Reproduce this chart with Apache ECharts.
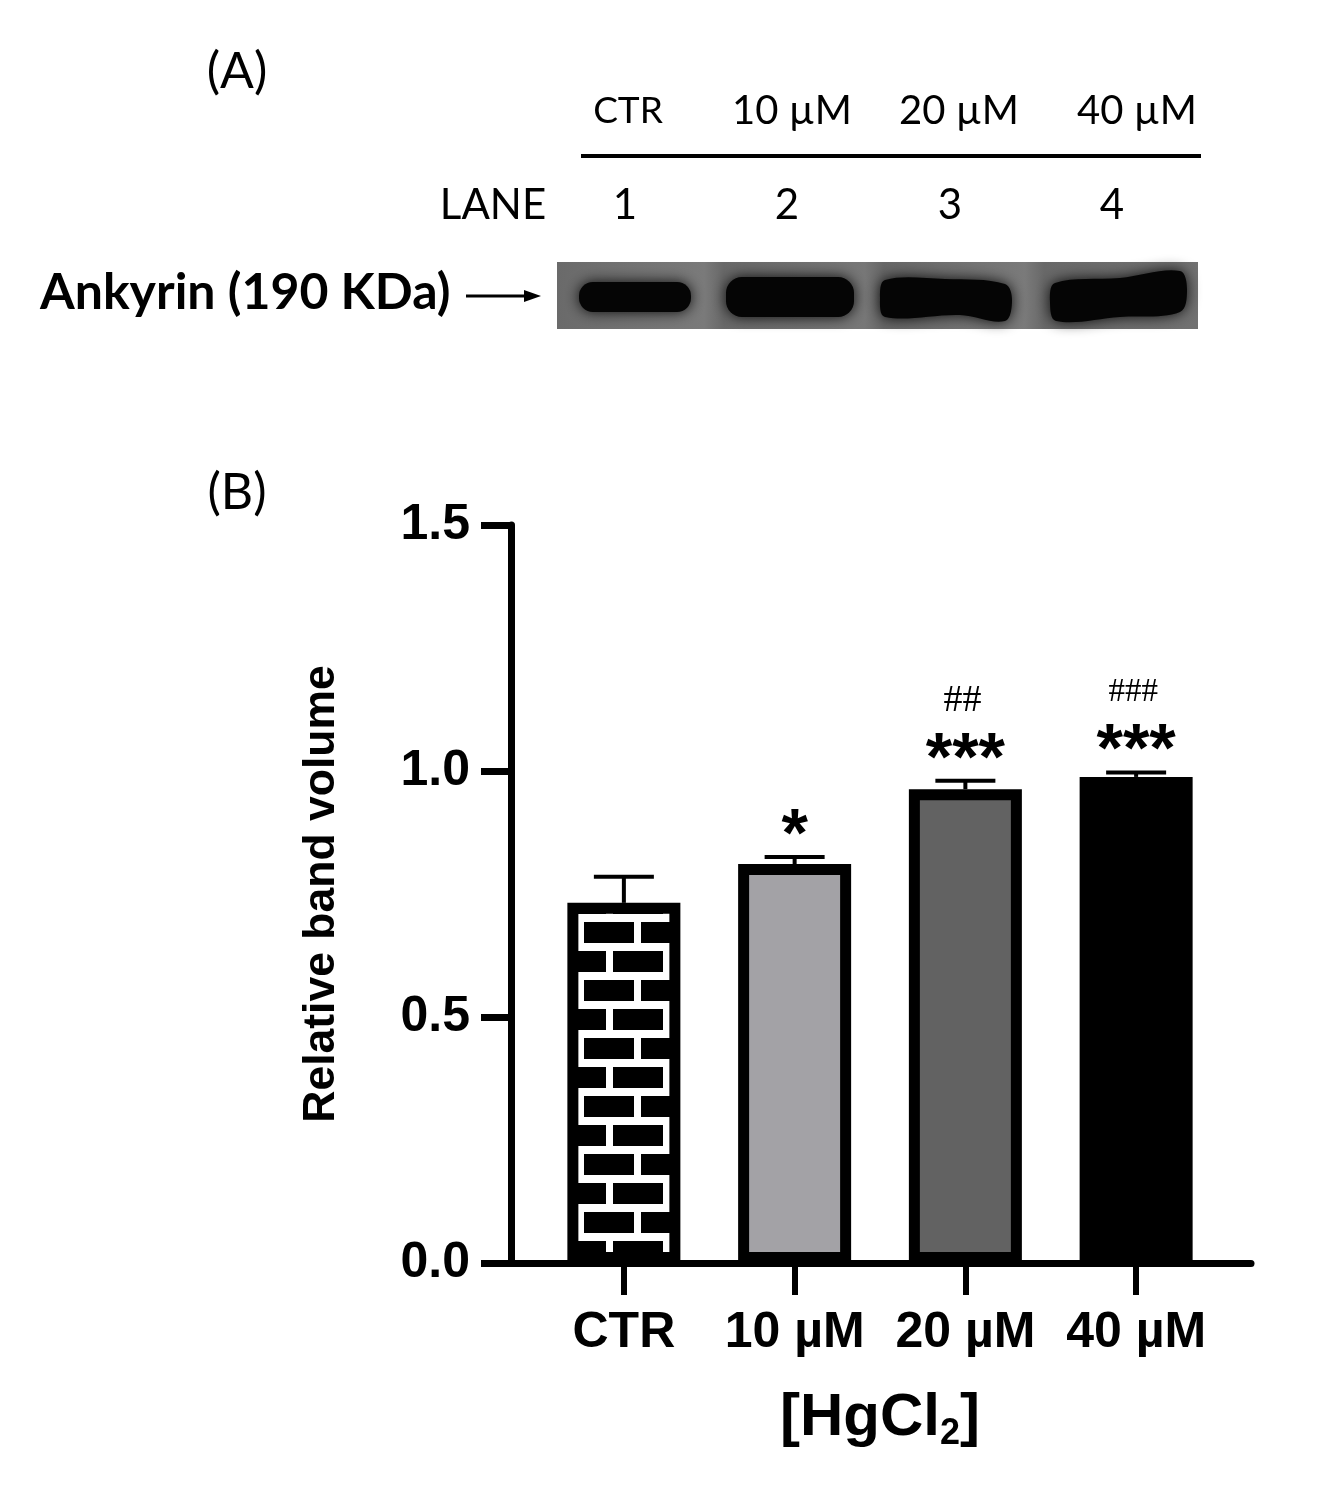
<!DOCTYPE html>
<html><head><meta charset="utf-8">
<script src="https://cdn.jsdelivr.net/npm/echarts@6/dist/echarts.min.js"></script>
<style>html,body{margin:0;padding:0;background:#fff}#c{width:1336px;height:1500px}</style>
</head><body><div id="c"></div>
<script>
// ---------- data ----------
const categories = ['CTR', '10 µM', '20 µM', '40 µM'];
const laneNumbers = ['1', '2', '3', '4'];
const meanValues = [0.732, 0.811, 0.963, 0.988];
const errorValues = [0.053, 0.014, 0.017, 0.009];
const starMarks = ['', '*', '***', '***'];
const hashMarks = ['', '', '##', '###'];
const yTickValues = [0, 0.5, 1.0, 1.5];

// ---------- styles ----------
const SANS = '"Liberation Sans", Arial, sans-serif';
const CAL = 'Lato, "Open Sans", sans-serif';
const barFills = ['brick', '#a3a2a6', '#626262', '#000000'];
const hashFontSize = {2: 38, 3: 33};

function brickCanvas() {
  const W = 57, H = 58;
  const c = document.createElement('canvas');
  c.width = W; c.height = H;
  const g = c.getContext('2d');
  g.fillStyle = '#fff'; g.fillRect(0, 0, W, H);
  g.fillStyle = '#000';
  const rows = [{y: 52, mx: 7}, {y: 23, mx: 36}];
  rows.forEach(r => {
    [-H, 0].forEach(dy => {
      [-W, 0, W].forEach(dx => g.fillRect(r.mx + 7 + dx, r.y + dy, 50, 21));
    });
  });
  return c;
}
const brick = {image: brickCanvas(), repeat: 'repeat'};

const chart = echarts.init(document.getElementById('c'), null, {renderer: 'canvas'});

const haze = {shadowBlur: 14, shadowColor: 'rgba(0,0,0,0.9)'};
const graphics = [
  {type: 'text', style: {text: '(A)', x: 237, y: 72, align: 'center', verticalAlign: 'middle', font: '50px ' + CAL, fill: '#000'}},
  {type: 'text', style: {text: '(B)', x: 237, y: 493, align: 'center', verticalAlign: 'middle', font: '50px ' + CAL, fill: '#000'}},
  {type: 'line', shape: {x1: 581, y1: 156, x2: 1201, y2: 156}, style: {stroke: '#000', lineWidth: 4}},
  {type: 'text', style: {text: 'LANE', x: 493, y: 205, align: 'center', verticalAlign: 'middle', font: '42px ' + CAL, fill: '#000'}},
  {type: 'text', style: {text: 'Ankyrin (190 KDa)', x: 40, y: 293, align: 'left', verticalAlign: 'middle', font: 'bold 50px ' + CAL, fill: '#000'}},
  {type: 'line', shape: {x1: 466, y1: 296, x2: 530, y2: 296}, style: {stroke: '#000', lineWidth: 3}},
  {type: 'polygon', shape: {points: [[524, 290], [541, 296], [524, 302]]}, style: {fill: '#000'}},
  // blot background
  {type: 'rect', shape: {x: 557, y: 262, width: 641, height: 67},
    style: {fill: new echarts.graphic.LinearGradient(0, 0, 1, 0, [
      {offset: 0, color: '#6a6a6a'}, {offset: 0.23, color: '#7a7a7a'}, {offset: 0.26, color: '#686868'},
      {offset: 0.48, color: '#777'}, {offset: 0.51, color: '#666'}, {offset: 0.73, color: '#7a7a7a'},
      {offset: 0.76, color: '#686868'}, {offset: 1, color: '#717171'}])}},
  {type: 'rect', shape: {x: 579, y: 282, width: 112, height: 30, r: 14}, style: Object.assign({fill: '#050505'}, haze)},
  {type: 'rect', shape: {x: 726, y: 277, width: 128, height: 40, r: 16}, style: Object.assign({fill: '#050505'}, haze)},
  {type: 'polygon', shape: {smooth: 0.35, points: [[885, 280], [945, 279], [1005, 284], [1012, 300], [1005, 321], [960, 315], [885, 317], [880, 298]]}, style: Object.assign({fill: '#050505'}, haze)},
  {type: 'polygon', shape: {smooth: 0.35, points: [[1055, 283], [1120, 278], [1180, 271], [1187, 290], [1180, 312], [1120, 317], [1056, 321], [1050, 302]]}, style: Object.assign({fill: '#050505'}, haze)}
];
const doseX = [628, 792, 959, 1137];
const laneX = [625, 787, 950, 1112];
categories.forEach((c, i) => {
  graphics.push({type: 'text', style: {text: c, x: doseX[i], y: 111, align: 'center', verticalAlign: 'middle', font: (i === 0 ? 37 : 40) + 'px ' + CAL, fill: '#000'}});
});
laneNumbers.forEach((n, i) => {
  graphics.push({type: 'text', style: {text: n, x: laneX[i], y: 205, align: 'center', verticalAlign: 'middle', font: '42px ' + CAL, fill: '#000'}});
});

const option = {
  backgroundColor: '#fff',
  animation: false,
  grid: [
    {left: 511, right: 85, top: 525, bottom: 237},
    {left: 538.5, right: 114.5, top: 525, bottom: 237}
  ],
  xAxis: [
    {gridIndex: 0, type: 'value', min: 0, max: 1,
      axisLine: {show: true, onZero: false, lineStyle: {color: '#000', width: 7}},
      axisTick: {show: false}, axisLabel: {show: false}, splitLine: {show: false}},
    {gridIndex: 1, type: 'category', data: categories,
      axisLine: {show: false},
      axisTick: {show: true, alignWithLabel: true, interval: 0, length: 32, lineStyle: {color: '#000', width: 6}},
      axisLabel: {interval: 0, margin: 45, fontSize: 50, fontWeight: 'bold', fontFamily: SANS, color: '#000'},
      name: '{b|[HgCl}{s|2}{b|]}', nameLocation: 'middle', nameGap: 129,
      nameTextStyle: {rich: {
        b: {fontSize: 60, fontWeight: 'bold', fontFamily: SANS, color: '#000', lineHeight: 60, padding: [0, 0, 8, 0]},
        s: {fontSize: 36, fontWeight: 'bold', fontFamily: SANS, color: '#000', lineHeight: 36, verticalAlign: 'bottom'}
      }}}
  ],
  yAxis: [
    {gridIndex: 0, type: 'value', min: yTickValues[0], max: yTickValues[yTickValues.length - 1], interval: yTickValues[1] - yTickValues[0],
      axisLine: {show: true, lineStyle: {color: '#000', width: 7}},
      axisTick: {show: true, length: 30, lineStyle: {color: '#000', width: 7}},
      axisLabel: {margin: 41, fontSize: 50, fontWeight: 'bold', fontFamily: SANS, color: '#000', formatter: v => v.toFixed(1)},
      splitLine: {show: false},
      name: 'Relative band volume', nameLocation: 'middle', nameGap: 167, nameRotate: 90,
      nameTextStyle: {fontSize: 44.5, fontWeight: 'bold', fontFamily: SANS, color: '#000'}},
    {gridIndex: 1, type: 'value', min: yTickValues[0], max: yTickValues[yTickValues.length - 1], show: false}
  ],
  series: [
    {type: 'custom', xAxisIndex: 1, yAxisIndex: 1, z: 1,
      data: categories.map((c, i) => [i, meanValues[i], errorValues[i]]),
      encode: {x: 0, y: 1},
      renderItem: (params, api) => {
        const i = api.value(0), v = api.value(1), e = api.value(2);
        const p0 = api.coord([i, v]), p1 = api.coord([i, v + e]);
        const hw = 30;
        return {type: 'group', children: [
          {type: 'line', shape: {x1: p0[0], y1: p0[1], x2: p1[0], y2: p1[1]}, style: {stroke: '#000', lineWidth: 4}},
          {type: 'line', shape: {x1: p1[0] - hw, y1: p1[1], x2: p1[0] + hw, y2: p1[1]}, style: {stroke: '#000', lineWidth: 4}}
        ]};
      }},
    {type: 'bar', xAxisIndex: 1, yAxisIndex: 1, z: 2, barWidth: 113,
      data: meanValues.map((v, i) => ({value: v, itemStyle: {color: barFills[i] === 'brick' ? brick : barFills[i], borderColor: '#000', borderWidth: 11}}))},
    {type: 'custom', xAxisIndex: 1, yAxisIndex: 1, z: 3,
      data: categories.map((c, i) => [i, meanValues[i] + errorValues[i]]),
      encode: {x: 0, y: 1},
      renderItem: (params, api) => {
        const i = api.value(0);
        const p = api.coord([i, api.value(1)]);
        const children = [];
        if (starMarks[i]) children.push({type: 'text', style: {text: starMarks[i], x: p[0], y: p[1] - 20, align: 'center', verticalAlign: 'middle', font: 'bold 68px ' + SANS, fill: '#000'}});
        if (hashMarks[i]) children.push({type: 'text', style: {text: hashMarks[i], x: p[0] - 3, y: p[1] - 80, align: 'center', verticalAlign: 'middle', font: (hashFontSize[hashMarks[i].length] || 36) + 'px "Liberation Serif", serif', fill: '#000'}});
        return {type: 'group', children};
      }}
  ],
  graphic: graphics
};
chart.setOption(option);
</script>
</body></html>
